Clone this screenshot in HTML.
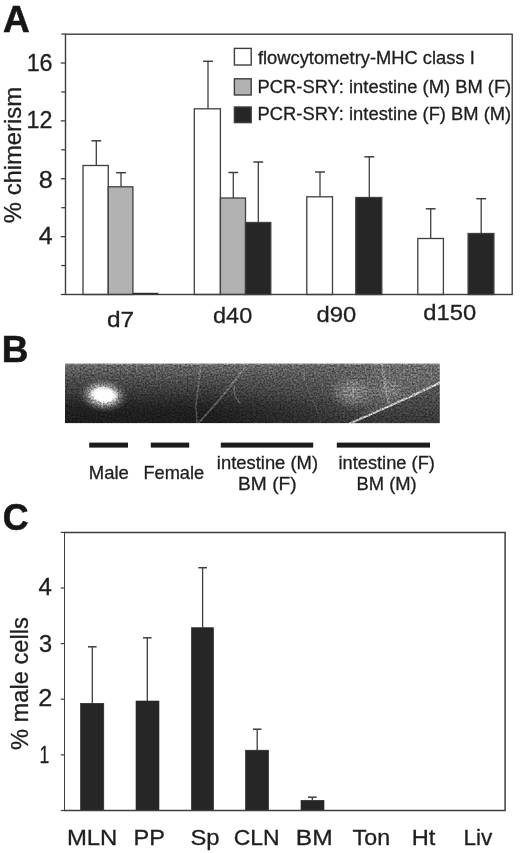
<!DOCTYPE html>
<html><head><meta charset="utf-8"><title>Figure</title>
<style>
html,body{margin:0;padding:0;background:#fff;}
body{width:520px;height:853px;overflow:hidden;}
svg{display:block;}
svg text{font-family:"Liberation Sans",Arial,Helvetica,sans-serif;}
</style></head><body>
<svg width="520" height="853" viewBox="0 0 520 853">
<rect width="520" height="853" fill="#fff"/>
<text transform="translate(2.97,32.00) scale(1.0113,1)" font-size="36.6" font-weight="bold" fill="#161616" stroke="#161616" stroke-width="0.6">A</text>
<line x1="96.3" y1="140.8" x2="96.3" y2="165.5" stroke="#3e3e3e" stroke-width="1.3"/>
<line x1="91.39999999999999" y1="140.8" x2="101.2" y2="140.8" stroke="#3e3e3e" stroke-width="1.5"/>
<line x1="121.0" y1="172.7" x2="121.0" y2="186.8" stroke="#3e3e3e" stroke-width="1.3"/>
<line x1="116.1" y1="172.7" x2="125.9" y2="172.7" stroke="#3e3e3e" stroke-width="1.5"/>
<line x1="208" y1="61.3" x2="208" y2="108.8" stroke="#3e3e3e" stroke-width="1.3"/>
<line x1="203.1" y1="61.3" x2="212.9" y2="61.3" stroke="#3e3e3e" stroke-width="1.5"/>
<line x1="233.3" y1="172.5" x2="233.3" y2="198" stroke="#3e3e3e" stroke-width="1.3"/>
<line x1="228.4" y1="172.5" x2="238.20000000000002" y2="172.5" stroke="#3e3e3e" stroke-width="1.5"/>
<line x1="258.3" y1="162" x2="258.3" y2="222.5" stroke="#3e3e3e" stroke-width="1.3"/>
<line x1="253.4" y1="162" x2="263.2" y2="162" stroke="#3e3e3e" stroke-width="1.5"/>
<line x1="320" y1="172" x2="320" y2="196.8" stroke="#3e3e3e" stroke-width="1.3"/>
<line x1="315.1" y1="172" x2="324.9" y2="172" stroke="#3e3e3e" stroke-width="1.5"/>
<line x1="369.3" y1="156.8" x2="369.3" y2="197.5" stroke="#3e3e3e" stroke-width="1.3"/>
<line x1="364.40000000000003" y1="156.8" x2="374.2" y2="156.8" stroke="#3e3e3e" stroke-width="1.5"/>
<line x1="430.7" y1="208.8" x2="430.7" y2="238.5" stroke="#3e3e3e" stroke-width="1.3"/>
<line x1="425.8" y1="208.8" x2="435.59999999999997" y2="208.8" stroke="#3e3e3e" stroke-width="1.5"/>
<line x1="481.2" y1="198.7" x2="481.2" y2="233.5" stroke="#3e3e3e" stroke-width="1.3"/>
<line x1="476.3" y1="198.7" x2="486.09999999999997" y2="198.7" stroke="#3e3e3e" stroke-width="1.5"/>
<rect x="83" y="165.5" width="25.25" height="129.00" fill="#fff" stroke="#3e3e3e" stroke-width="1.3"/>
<rect x="108.25" y="186.8" width="24.65" height="107.70" fill="#b2b2b2" stroke="#3e3e3e" stroke-width="1.3"/>
<rect x="194.3" y="108.8" width="26.10" height="185.70" fill="#fff" stroke="#3e3e3e" stroke-width="1.3"/>
<rect x="220.4" y="198" width="25.10" height="96.50" fill="#b2b2b2" stroke="#3e3e3e" stroke-width="1.3"/>
<rect x="245.5" y="222.5" width="25.30" height="72.00" fill="#262626" stroke="#3e3e3e" stroke-width="1.3"/>
<rect x="306.8" y="196.8" width="25.70" height="97.70" fill="#fff" stroke="#3e3e3e" stroke-width="1.3"/>
<rect x="355.8" y="197.5" width="26.00" height="97.00" fill="#262626" stroke="#3e3e3e" stroke-width="1.3"/>
<rect x="417.8" y="238.5" width="25.60" height="56.00" fill="#fff" stroke="#3e3e3e" stroke-width="1.3"/>
<rect x="468.1" y="233.5" width="25.80" height="61.00" fill="#262626" stroke="#3e3e3e" stroke-width="1.3"/>
<line x1="132.9" y1="293.7" x2="158.4" y2="293.7" stroke="#262626" stroke-width="1.8"/>
<rect x="65.5" y="34.2" width="446.70" height="260.30" fill="none" stroke="#3e3e3e" stroke-width="1.4"/>
<line x1="60.8" y1="294.5" x2="65.5" y2="294.5" stroke="#3e3e3e" stroke-width="1.3"/>
<line x1="61.3" y1="265.5625" x2="65.5" y2="265.5625" stroke="#3e3e3e" stroke-width="1.3"/>
<line x1="60.8" y1="236.625" x2="65.5" y2="236.625" stroke="#3e3e3e" stroke-width="1.3"/>
<line x1="61.3" y1="207.6875" x2="65.5" y2="207.6875" stroke="#3e3e3e" stroke-width="1.3"/>
<line x1="60.8" y1="178.75" x2="65.5" y2="178.75" stroke="#3e3e3e" stroke-width="1.3"/>
<line x1="61.3" y1="149.8125" x2="65.5" y2="149.8125" stroke="#3e3e3e" stroke-width="1.3"/>
<line x1="60.8" y1="120.875" x2="65.5" y2="120.875" stroke="#3e3e3e" stroke-width="1.3"/>
<line x1="61.3" y1="91.9375" x2="65.5" y2="91.9375" stroke="#3e3e3e" stroke-width="1.3"/>
<line x1="60.8" y1="63.0" x2="65.5" y2="63.0" stroke="#3e3e3e" stroke-width="1.3"/>
<line x1="61.3" y1="34.0625" x2="65.5" y2="34.0625" stroke="#3e3e3e" stroke-width="1.3"/>
<text transform="translate(26.65,70.60) scale(1.0145,1)" font-size="23" fill="#1f1f1f" stroke="#1f1f1f" stroke-width="0.3">16</text>
<text transform="translate(26.55,127.50) scale(1.0152,1)" font-size="23" fill="#1f1f1f" stroke="#1f1f1f" stroke-width="0.3">12</text>
<text transform="translate(38.66,187.80) scale(1.1008,1)" font-size="23" fill="#1f1f1f" stroke="#1f1f1f" stroke-width="0.3">8</text>
<text transform="translate(38.67,244.00) scale(1.0870,1)" font-size="23" fill="#1f1f1f" stroke="#1f1f1f" stroke-width="0.3">4</text>
<text transform="translate(21.40,223.13) rotate(-90) scale(1.0088,1)" font-size="23.6" fill="#1f1f1f" stroke="#1f1f1f" stroke-width="0.3">% chimerism</text>
<text transform="translate(106.92,326.80) scale(1.0947,1)" font-size="22.3" fill="#1f1f1f" stroke="#1f1f1f" stroke-width="0.3">d7</text>
<text transform="translate(213.06,323.30) scale(1.0525,1)" font-size="22.3" fill="#1f1f1f" stroke="#1f1f1f" stroke-width="0.3">d40</text>
<text transform="translate(316.55,322.10) scale(1.0666,1)" font-size="22.3" fill="#1f1f1f" stroke="#1f1f1f" stroke-width="0.3">d90</text>
<text transform="translate(423.25,319.90) scale(1.0662,1)" font-size="22.3" fill="#1f1f1f" stroke="#1f1f1f" stroke-width="0.3">d150</text>
<rect x="234.4" y="48.4" width="16.80" height="16.60" fill="#fff" stroke="#3e3e3e" stroke-width="1.4"/>
<rect x="234.4" y="78.8" width="16.80" height="16.20" fill="#b2b2b2" stroke="#3e3e3e" stroke-width="1.4"/>
<rect x="234.4" y="107" width="16.80" height="15.60" fill="#262626" stroke="#3e3e3e" stroke-width="1.4"/>
<text transform="translate(257.93,63.60) scale(1.0235,1)" font-size="17.9" fill="#1f1f1f" stroke="#1f1f1f" stroke-width="0.3">flowcytometry-MHC class I</text>
<text transform="translate(257.53,93.00) scale(1.0266,1)" font-size="17.9" fill="#1f1f1f" stroke="#1f1f1f" stroke-width="0.3">PCR-SRY: intestine (M) BM (F)</text>
<text transform="translate(257.53,120.40) scale(1.0266,1)" font-size="17.9" fill="#1f1f1f" stroke="#1f1f1f" stroke-width="0.3">PCR-SRY: intestine (F) BM (M)</text>
<text transform="translate(1.70,362.30) scale(1.0078,1)" font-size="36.6" font-weight="bold" fill="#161616" stroke="#161616" stroke-width="0.6">B</text>
<defs>
<linearGradient id="gg" x1="0" y1="0" x2="0" y2="1">
<stop offset="0" stop-color="#686868"/><stop offset="0.25" stop-color="#4e4e4e"/><stop offset="0.5" stop-color="#383838"/><stop offset="0.68" stop-color="#262626"/><stop offset="0.8" stop-color="#1f1f1f"/><stop offset="1" stop-color="#1d1d1d"/>
</linearGradient>
<linearGradient id="gr" x1="0" y1="0" x2="0" y2="1">
<stop offset="0" stop-color="#646464"/><stop offset="0.5" stop-color="#5a5a5a"/><stop offset="0.75" stop-color="#4c4c4c"/><stop offset="1" stop-color="#3c3c3c"/>
</linearGradient>
<linearGradient id="mh" x1="0" y1="0" x2="1" y2="0">
<stop offset="0" stop-color="#000"/><stop offset="0.38" stop-color="#000"/><stop offset="0.66" stop-color="#808080"/><stop offset="0.84" stop-color="#fff"/><stop offset="1" stop-color="#fff"/>
</linearGradient>
<mask id="mr" maskUnits="userSpaceOnUse" x="65" y="363.5" width="374.70" height="59.80"><rect x="65" y="363.5" width="374.70" height="59.80" fill="url(#mh)"/></mask>
<radialGradient id="spot"><stop offset="0" stop-color="#fff" stop-opacity="1"/><stop offset="0.3" stop-color="#fff" stop-opacity="0.95"/><stop offset="0.55" stop-color="#e0e0e0" stop-opacity="0.6"/><stop offset="0.8" stop-color="#bbb" stop-opacity="0.2"/><stop offset="1" stop-color="#aaa" stop-opacity="0"/></radialGradient>
<radialGradient id="core"><stop offset="0" stop-color="#fff" stop-opacity="1"/><stop offset="0.6" stop-color="#fff" stop-opacity="0.95"/><stop offset="1" stop-color="#fff" stop-opacity="0"/></radialGradient>
<radialGradient id="faint"><stop offset="0" stop-color="#b8b8b8" stop-opacity="0.55"/><stop offset="0.55" stop-color="#a8a8a8" stop-opacity="0.32"/><stop offset="1" stop-color="#909090" stop-opacity="0"/></radialGradient>
<filter id="noise" x="0" y="0" width="100%" height="100%" color-interpolation-filters="sRGB">
<feTurbulence type="fractalNoise" baseFrequency="0.55" numOctaves="2" seed="11" result="t"/>
<feColorMatrix in="t" type="matrix" values="2.0 0 0 0 -0.5  2.0 0 0 0 -0.5  2.0 0 0 0 -0.5  0 0 0 0 1" result="n"/>
<feComposite in="SourceGraphic" in2="n" operator="arithmetic" k1="0.7" k2="0.66" k3="0" k4="0" result="c"/>
<feGaussianBlur in="c" stdDeviation="0.5"/>
</filter>
<filter id="soft" x="-5%" y="-20%" width="110%" height="140%"><feGaussianBlur stdDeviation="0.6"/></filter>
<clipPath id="gc"><rect x="65" y="363.5" width="374.70" height="59.80"/></clipPath>
</defs>
<g clip-path="url(#gc)">
<g filter="url(#noise)">
<rect x="65" y="363.5" width="374.70" height="59.80" fill="url(#gg)"/>
<rect x="65" y="363.5" width="374.70" height="59.80" fill="url(#gr)" mask="url(#mr)"/>
<path d="M350,423.5 C380,410 410,397.5 440,382.8 L440,424 Z" fill="#000" opacity="0.12"/>
<path d="M362,418 C385,408 412,396.5 440,382.8 L440,363 L372,363 Z" fill="#fff" opacity="0.05"/>
<rect x="65" y="363.5" width="374.70" height="1.2" fill="#fff" opacity="0.2"/>
<ellipse cx="352.5" cy="392.5" rx="24" ry="18" fill="url(#faint)"/>
<ellipse cx="389.5" cy="390" rx="17" ry="15" fill="url(#faint)" opacity="0.55"/>
<g filter="url(#soft)" fill="none" stroke-linecap="round">
<path d="M350,423.5 C380,410 410,397.5 440,382.8" stroke="#d0d0d0" stroke-width="2.2" opacity="0.8"/>
<path d="M382,363 C384,375 386,390 388.5,403" stroke="#bbb" stroke-width="2.4" opacity="0.3"/>
<path d="M200.8,364 L196,405 L197,423" stroke="#aaa" stroke-width="1.6" opacity="0.32"/>
<path d="M247,364 C236,380 215,405 198,423.5" stroke="#bbb" stroke-width="1.8" opacity="0.34"/>
<path d="M234.5,386 C233.5,394 236,400 240,403" stroke="#bbb" stroke-width="1.3" opacity="0.35"/>
<path d="M150,381 C190,373 240,368 300,364" stroke="#999" stroke-width="1.2" opacity="0.22"/>
<path d="M300,364 C306,385 314,405 322,423" stroke="#999" stroke-width="1.4" opacity="0.18"/>
</g>
<ellipse cx="103.5" cy="395.5" rx="25" ry="17" fill="url(#spot)" transform="rotate(6 103.5 395.5)"/>
</g>
<ellipse cx="104" cy="394.8" rx="15" ry="8" fill="url(#core)" transform="rotate(6 104 394.8)"/>
</g>
<rect x="89.2" y="442.6" width="38.80" height="5" fill="#1c1c1c"/>
<rect x="150.8" y="442.6" width="38.40" height="5" fill="#1c1c1c"/>
<rect x="220.8" y="442.6" width="92.40" height="5" fill="#1c1c1c"/>
<rect x="336.8" y="442.6" width="93.20" height="5" fill="#1c1c1c"/>
<text transform="translate(88.82,479.20) scale(1.0154,1)" font-size="18.2" fill="#1f1f1f" stroke="#1f1f1f" stroke-width="0.3">Male</text>
<text transform="translate(143.44,479.20) scale(1.0013,1)" font-size="18.2" fill="#1f1f1f" stroke="#1f1f1f" stroke-width="0.3">Female</text>
<text transform="translate(216.80,468.80) scale(1.0120,1)" font-size="18.2" fill="#1f1f1f" stroke="#1f1f1f" stroke-width="0.3">intestine (M)</text>
<text transform="translate(238.07,490.40) scale(1.0536,1)" font-size="18.2" fill="#1f1f1f" stroke="#1f1f1f" stroke-width="0.3">BM (F)</text>
<text transform="translate(338.41,468.80) scale(1.0050,1)" font-size="18.2" fill="#1f1f1f" stroke="#1f1f1f" stroke-width="0.3">intestine (F)</text>
<text transform="translate(356.43,490.40) scale(1.0113,1)" font-size="18.2" fill="#1f1f1f" stroke="#1f1f1f" stroke-width="0.3">BM (M)</text>
<text transform="translate(2.67,529.90) scale(0.9761,1)" font-size="36.6" font-weight="bold" fill="#161616" stroke="#161616" stroke-width="0.6">C</text>
<line x1="92.3" y1="646.8" x2="92.3" y2="703.3" stroke="#3e3e3e" stroke-width="1.3"/>
<line x1="88.0" y1="646.8" x2="96.6" y2="646.8" stroke="#3e3e3e" stroke-width="1.5"/>
<line x1="147.3" y1="637.8" x2="147.3" y2="701" stroke="#3e3e3e" stroke-width="1.3"/>
<line x1="143.0" y1="637.8" x2="151.60000000000002" y2="637.8" stroke="#3e3e3e" stroke-width="1.5"/>
<line x1="202.6" y1="567.7" x2="202.6" y2="627.7" stroke="#3e3e3e" stroke-width="1.3"/>
<line x1="198.29999999999998" y1="567.7" x2="206.9" y2="567.7" stroke="#3e3e3e" stroke-width="1.5"/>
<line x1="257.2" y1="729.2" x2="257.2" y2="750.2" stroke="#3e3e3e" stroke-width="1.3"/>
<line x1="252.89999999999998" y1="729.2" x2="261.5" y2="729.2" stroke="#3e3e3e" stroke-width="1.5"/>
<line x1="312.3" y1="797.2" x2="312.3" y2="800.3" stroke="#3e3e3e" stroke-width="1.3"/>
<line x1="308.0" y1="797.2" x2="316.6" y2="797.2" stroke="#3e3e3e" stroke-width="1.5"/>
<rect x="80.5" y="703.3" width="23.30" height="107.20" fill="#262626" stroke="#262626" stroke-width="0.6"/>
<rect x="136" y="701" width="23.00" height="109.50" fill="#262626" stroke="#262626" stroke-width="0.6"/>
<rect x="191.4" y="627.7" width="22.20" height="182.80" fill="#262626" stroke="#262626" stroke-width="0.6"/>
<rect x="245.5" y="750.2" width="23.10" height="60.30" fill="#262626" stroke="#262626" stroke-width="0.6"/>
<rect x="301" y="800.3" width="23.00" height="10.20" fill="#262626" stroke="#262626" stroke-width="0.6"/>
<line x1="64.5" y1="532.5" x2="64.5" y2="810.5" stroke="#3e3e3e" stroke-width="1.0"/>
<line x1="64.0" y1="532.5" x2="505.8" y2="532.5" stroke="#3e3e3e" stroke-width="1.4"/>
<line x1="505.1" y1="532.5" x2="505.1" y2="810.5" stroke="#3e3e3e" stroke-width="1.5"/>
<line x1="64.0" y1="810.5" x2="505.8" y2="810.5" stroke="#3e3e3e" stroke-width="1.4"/>
<line x1="60.8" y1="810.5" x2="64.5" y2="810.5" stroke="#3e3e3e" stroke-width="1.2"/>
<line x1="60.8" y1="754.875" x2="64.5" y2="754.875" stroke="#3e3e3e" stroke-width="1.2"/>
<line x1="60.8" y1="699.25" x2="64.5" y2="699.25" stroke="#3e3e3e" stroke-width="1.2"/>
<line x1="60.8" y1="643.625" x2="64.5" y2="643.625" stroke="#3e3e3e" stroke-width="1.2"/>
<line x1="60.8" y1="588.0" x2="64.5" y2="588.0" stroke="#3e3e3e" stroke-width="1.2"/>
<line x1="60.8" y1="532.375" x2="64.5" y2="532.375" stroke="#3e3e3e" stroke-width="1.2"/>
<text transform="translate(38.50,595.40) scale(1.0435,1)" font-size="23" fill="#1f1f1f" stroke="#1f1f1f" stroke-width="0.3">4</text>
<text transform="translate(39.06,651.80) scale(1.0268,1)" font-size="23" fill="#1f1f1f" stroke="#1f1f1f" stroke-width="0.3">3</text>
<text transform="translate(38.34,706.00) scale(1.0989,1)" font-size="23" fill="#1f1f1f" stroke="#1f1f1f" stroke-width="0.3">2</text>
<text transform="translate(39.47,762.60) scale(0.7685,1)" font-size="23" fill="#1f1f1f" stroke="#1f1f1f" stroke-width="0.3">1</text>
<text transform="translate(27.90,750.03) rotate(-90) scale(0.9957,1)" font-size="23.8" fill="#1f1f1f" stroke="#1f1f1f" stroke-width="0.3">% male cells</text>
<text transform="translate(66.89,845.30) scale(1.0668,1)" font-size="22.4" fill="#1f1f1f" stroke="#1f1f1f" stroke-width="0.3">MLN</text>
<text transform="translate(133.61,845.30) scale(1.0528,1)" font-size="22.4" fill="#1f1f1f" stroke="#1f1f1f" stroke-width="0.3">PP</text>
<text transform="translate(190.43,845.30) scale(1.0620,1)" font-size="22.4" fill="#1f1f1f" stroke="#1f1f1f" stroke-width="0.3">Sp</text>
<text transform="translate(233.65,845.30) scale(1.0265,1)" font-size="22.4" fill="#1f1f1f" stroke="#1f1f1f" stroke-width="0.3">CLN</text>
<text transform="translate(295.83,845.30) scale(1.0968,1)" font-size="22.4" fill="#1f1f1f" stroke="#1f1f1f" stroke-width="0.3">BM</text>
<text transform="translate(352.62,845.30) scale(1.0368,1)" font-size="22.4" fill="#1f1f1f" stroke="#1f1f1f" stroke-width="0.3">Ton</text>
<text transform="translate(411.81,845.30) scale(1.0547,1)" font-size="22.4" fill="#1f1f1f" stroke="#1f1f1f" stroke-width="0.3">Ht</text>
<text transform="translate(463.49,845.30) scale(1.0087,1)" font-size="22.4" fill="#1f1f1f" stroke="#1f1f1f" stroke-width="0.3">Liv</text>
</svg>
</body></html>
